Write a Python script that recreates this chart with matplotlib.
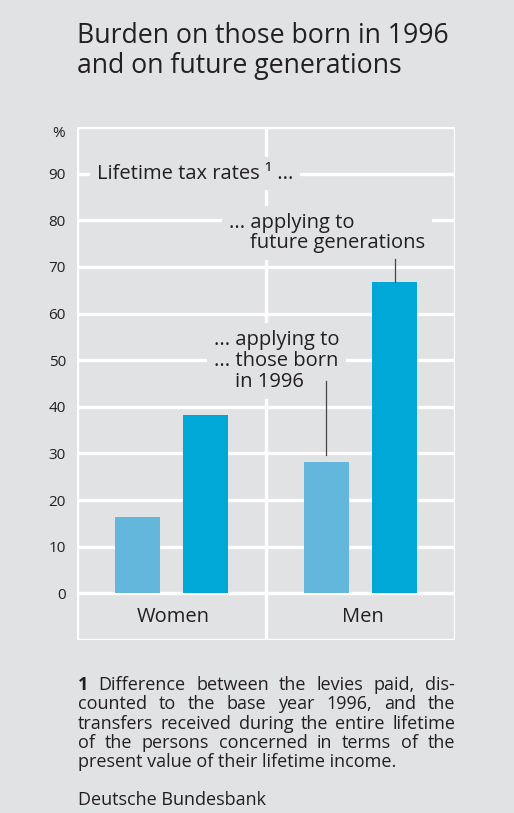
import matplotlib
matplotlib.use("Agg")
import matplotlib.pyplot as plt

plt.rcParams['font.family'] = ['Open Sans', 'DejaVu Sans']

# lifetime tax rates in %
categories = ['Women', 'Men']
born_1996 = [16.3, 28.2]
future_gen = [38.3, 66.7]
yticks = [0, 10, 20, 30, 40, 50, 60, 70, 80, 90]

title_lines = ["Burden on those born in 1996", "and on future generations"]
footnote_lines = [
    "Difference between the levies paid, dis-",
    "counted to the base year 1996, and the",
    "transfers received during the entire lifetime",
    "of the persons concerned in terms of the",
    "present value of their lifetime income.",
]

BG = '#e1e2e4'
LIGHT = '#63b7dd'
DARK = '#00a8d8'
TXT = '#231f20'

W, H = 514, 813
fig = plt.figure(figsize=(W / 100, H / 100), dpi=100, facecolor=BG)
ax = fig.add_axes([77 / W, 1 - 640 / H, 378 / W, 513 / H])
ax.set_facecolor(BG)
for s in ax.spines.values():
    s.set_visible(False)

ax.set_xlim(-0.5, 1.5)
ax.set_ylim(-10, 100)

# white frame and grid
for y in yticks + [100, -10]:
    ax.axhline(y, color='white', lw=2.4, zorder=1)
for x in [-0.5, 0.5, 1.5]:
    ax.axvline(x, color='white', lw=2.4, zorder=1)

xs = range(len(categories))
bw = 0.242
ax.bar([x - 0.18 for x in xs], born_1996, width=bw, color=LIGHT, zorder=3)
ax.bar([x + 0.18 for x in xs], future_gen, width=bw, color=DARK, zorder=3)

ax.set_yticks(yticks)
ax.set_yticklabels([str(v) for v in yticks], fontsize=11, color=TXT)
ax.tick_params(axis='y', length=0, pad=8)
ax.set_xticks([])
ax.text(-0.565, 98.5, '%', ha='right', va='center', fontsize=11, color=TXT)

for x, c in zip(xs, categories):
    ax.text(x + 0.01, -5, c, ha='center', va='center', fontsize=14.5, color=TXT)

lab_fs = 14.5
box = dict(facecolor=BG, edgecolor='none', pad=5)
ax.text(-0.396, 90, 'Lifetime tax rates ¹ ...', ha='left', va='center',
        fontsize=lab_fs, color=TXT, bbox=box, zorder=4)
ax.text(0.304, 74.0, '... applying to\n    future generations', ha='left', va='baseline',
        fontsize=lab_fs, color=TXT, bbox=box, zorder=4, linespacing=1.02)
ax.text(0.225, 44.2, '... applying to\n... those born\n    in 1996', ha='left',
        va='baseline', fontsize=lab_fs, color=TXT, bbox=box, zorder=4, linespacing=1.08)

# leader lines
ax.plot([1.18, 1.18], [future_gen[1], future_gen[1] + 5], color='#444444', lw=0.9, zorder=5)
ax.plot([0.82, 0.82], [born_1996[1] + 1.5, 45.5], color='#444444', lw=0.9, zorder=5)

# title
for i, line in enumerate(title_lines):
    fig.text(77 / W, 1 - (43 + 30 * i) / H, line, ha='left', va='baseline',
             fontsize=19.2, color=TXT)

# justified footnote, last line set ragged
fig.canvas.draw()
renderer = fig.canvas.get_renderer()
x0, x1 = 78, 455
fs = 13
base = 690
for i, line in enumerate(footnote_lines):
    y = 1 - (base + i * 19.3) / H
    if i == len(footnote_lines) - 1:
        fig.text(x0 / W, y, line, ha='left', va='baseline', fontsize=fs, color=TXT)
        continue
    words = line.split()
    if i == 0:
        words = ['1'] + words
    texts = []
    for j, w in enumerate(words):
        t = fig.text(0, y, w, ha='left', va='baseline', fontsize=fs, color=TXT,
                     fontweight='bold' if (i == 0 and j == 0) else 'normal')
        texts.append(t)
    widths = [t.get_window_extent(renderer).width for t in texts]
    gap = (x1 - x0 - sum(widths)) / (len(words) - 1)
    x = x0
    for t, wdt in zip(texts, widths):
        t.set_x(x / W)
        x += wdt + gap

fig.text(x0 / W, 1 - 805 / H, 'Deutsche Bundesbank', ha='left', va='baseline',
         fontsize=fs, color=TXT)

fig.savefig('out.png', dpi=100, facecolor=BG)
